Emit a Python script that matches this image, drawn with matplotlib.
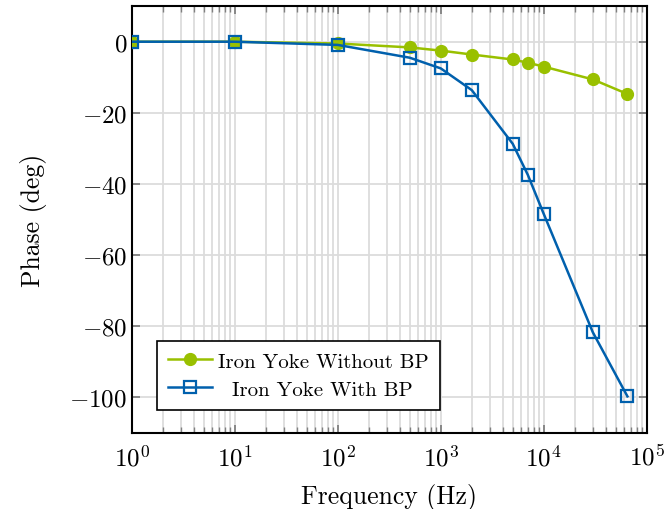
import numpy as np
import matplotlib
matplotlib.use("Agg")
import matplotlib.pyplot as plt
from matplotlib.ticker import LogLocator, NullFormatter

plt.rcParams['font.family'] = 'serif'
plt.rcParams['font.serif'] = ['cmr10']
plt.rcParams['mathtext.fontset'] = 'cm'
plt.rcParams['axes.formatter.use_mathtext'] = True

# data
freq = [1, 10, 100, 500, 1000, 2000, 5000, 7000, 10000, 30000, 65000]
phase_without_bp = [0, 0, -0.5, -1.6, -2.5, -3.6, -5.0, -5.9, -7.0, -10.6, -14.7]
phase_with_bp = [0, 0, -0.9, -4.5, -7.5, -13.6, -28.7, -37.4, -48.4, -81.7, -99.7]
yticks = [0, -20, -40, -60, -80, -100]

green = '#99c000'
blue = '#0060ad'

fig = plt.figure(figsize=(6.66, 5.1), dpi=100)
ax = fig.add_axes([0.198, 0.149, 0.773, 0.837])

ax.plot(freq, phase_without_bp, color=green, lw=1.8, marker='o', ms=8.5,
        label='Iron Yoke Without BP', zorder=3)
ax.plot(freq, phase_with_bp, color=blue, lw=1.8, marker='s', ms=8,
        mfc='none', mew=1.6, label='  Iron Yoke With BP', zorder=4)

ax.set_xscale('log')
ax.set_xlim(1, 1e5)
ax.set_ylim(-110, 10)
ax.set_yticks(yticks)
ax.xaxis.set_major_locator(LogLocator(base=10, numticks=10))
ax.xaxis.set_minor_locator(LogLocator(base=10, subs=np.arange(2, 10), numticks=20))
ax.xaxis.set_minor_formatter(NullFormatter())

ax.grid(True, which='major', color='#dcdcdc', lw=1.3)
ax.grid(True, which='minor', axis='x', color='#dcdcdc', lw=1.3)
ax.set_axisbelow(True)

ax.tick_params(which='both', direction='in', top=True, right=True, color='#808080',
               labelsize=18)
ax.tick_params(which='major', length=6, width=1.3)
ax.tick_params(which='minor', length=4, width=1.0)
ax.tick_params(axis='x', pad=8)
for s in ax.spines.values():
    s.set_linewidth(1.5)

ax.set_xlabel('Frequency (Hz)', fontsize=18.5, labelpad=9)
ax.set_ylabel('Phase (deg)', fontsize=18.5, labelpad=16)

leg = ax.legend(loc='lower left', bbox_to_anchor=(0.048, 0.054), borderaxespad=0,
                fontsize=15, fancybox=False, edgecolor='black', framealpha=1,
                handlelength=2.1, handletextpad=0.3, borderpad=0.55,
                labelspacing=0.45)
leg.get_frame().set_linewidth(1.2)

fig.savefig('out.png', dpi=100)
